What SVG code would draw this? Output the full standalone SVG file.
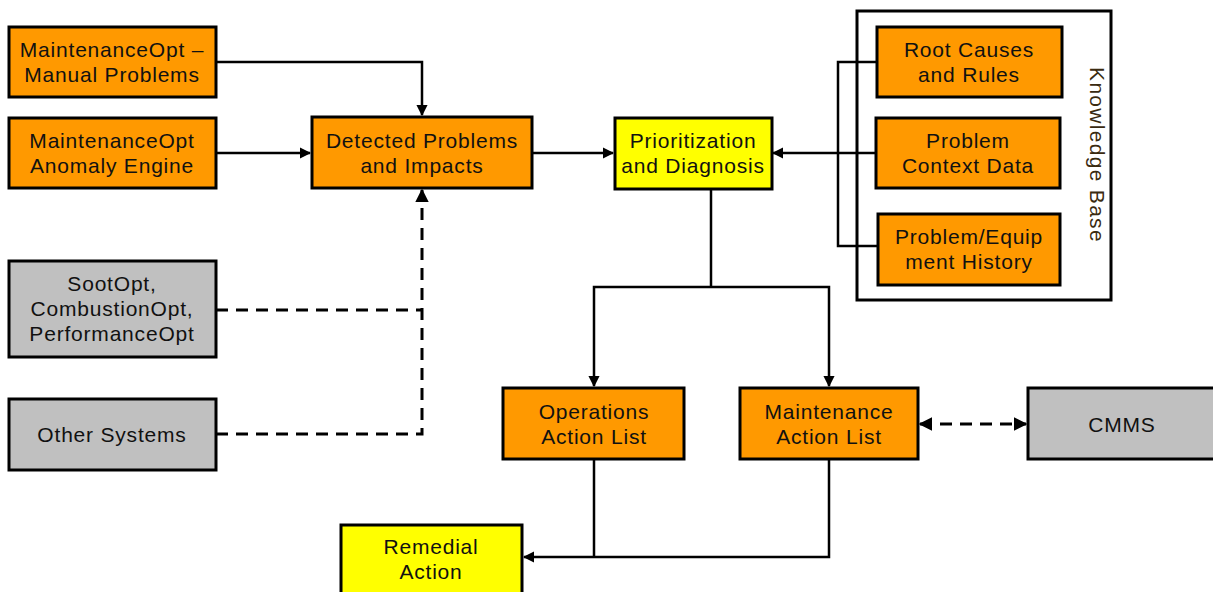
<svg xmlns="http://www.w3.org/2000/svg" width="1213" height="592" viewBox="0 0 1213 592">
<style>
.b{stroke:#000;stroke-width:3}
.o{fill:#FF9900}.y{fill:#FFFF00}.g{fill:#C0C0C0}
text{font-family:"Liberation Sans",Arial,sans-serif;font-size:21px;letter-spacing:0.8px;fill:#111;text-anchor:middle}
.c{fill:none;stroke:#000;stroke-width:2.5}
.d{fill:none;stroke:#000;stroke-width:3;stroke-dasharray:12 8}
</style>
<defs>
<marker id="a" viewBox="0 0 10 10" refX="9" refY="5" markerWidth="4.5" markerHeight="4.5" orient="auto-start-reverse"><path d="M0,0L10,5L0,10z" fill="#000"/></marker>
</defs>
<rect x="0" y="0" width="1213" height="592" fill="#fff"/>
<g id="connectors">
<path class="c" d="M216,62H422V115" marker-end="url(#a)"/>
<path class="c" d="M216,153H310" marker-end="url(#a)"/>
<path class="c" d="M532,153H613" marker-end="url(#a)"/>
<path class="d" d="M216,310H422"/>
<path class="d" d="M216,434H422V190" marker-end="url(#a)"/>
<path class="c" d="M877,62H838V246H877M877,153H773" marker-end="url(#a)"/>
<path class="c" d="M711,189V287"/>
<path class="c" d="M594,386V287H829V386" marker-start="url(#a)" marker-end="url(#a)"/>
<path class="c" d="M594,459V557M829,459V557H524" marker-end="url(#a)"/>
<path class="d" d="M920,424H1026" marker-start="url(#a)" marker-end="url(#a)"/>
</g>
<g id="n1"><rect class="b o" x="9" y="27" width="207" height="70"/><text x="112" y="57">MaintenanceOpt –</text><text x="112" y="82">Manual Problems</text></g>
<g id="n2"><rect class="b o" x="9" y="118" width="207" height="70"/><text x="112" y="148">MaintenanceOpt</text><text x="112" y="173">Anomaly Engine</text></g>
<g id="n3"><rect class="b g" x="9" y="261" width="207" height="96"/><text x="112" y="291">SootOpt,</text><text x="112" y="316">CombustionOpt,</text><text x="112" y="341">PerformanceOpt</text></g>
<g id="n4"><rect class="b g" x="9" y="399" width="207" height="71"/><text x="112" y="442">Other Systems</text></g>
<g id="n5"><rect class="b o" x="312" y="117" width="220" height="71"/><text x="422" y="148">Detected Problems</text><text x="422" y="173">and Impacts</text></g>
<g id="n6"><rect class="b y" x="615" y="118" width="157" height="71"/><text x="693" y="148">Prioritization</text><text x="693" y="173">and Diagnosis</text></g>
<g id="kb"><rect x="857" y="11" width="254" height="289" fill="none" stroke="#000" stroke-width="3"/><text x="1090" y="155" transform="rotate(90 1090 155)" style="fill:#3a2a10;font-size:21px;letter-spacing:1.3px">Knowledge Base</text></g>
<g id="n7"><rect class="b o" x="877" y="27" width="185" height="70"/><text x="969" y="57">Root Causes</text><text x="969" y="82">and Rules</text></g>
<g id="n8"><rect class="b o" x="876" y="118" width="184" height="70"/><text x="968" y="148">Problem</text><text x="968" y="173">Context Data</text></g>
<g id="n9"><rect class="b o" x="878" y="214" width="182" height="71"/><text x="969" y="244">Problem/Equip</text><text x="969" y="269">ment History</text></g>
<g id="n10"><rect class="b o" x="503" y="388" width="181" height="71"/><text x="594" y="419">Operations</text><text x="594" y="444">Action List</text></g>
<g id="n11"><rect class="b o" x="740" y="388" width="178" height="71"/><text x="829" y="419">Maintenance</text><text x="829" y="444">Action List</text></g>
<g id="n12"><rect class="b g" x="1028" y="388" width="190" height="71"/><text x="1122" y="432">CMMS</text></g>
<g id="n13"><rect class="b y" x="341" y="525" width="181" height="72"/><text x="431" y="554">Remedial</text><text x="431" y="579">Action</text></g>
</svg>
